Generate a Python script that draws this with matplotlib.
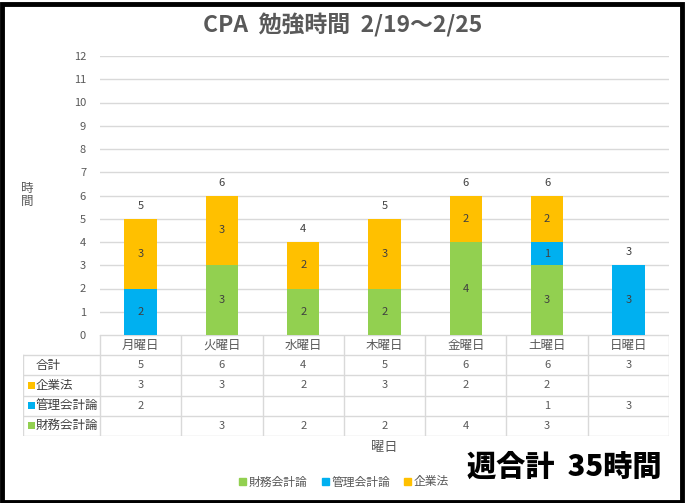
import matplotlib
matplotlib.use("Agg")
import matplotlib.pyplot as plt
from matplotlib.patches import Patch, Rectangle

plt.rcParams["font.family"] = ["Noto Sans CJK JP", "DejaVu Sans"]

# data
days = ["月曜日", "火曜日", "水曜日", "木曜日", "金曜日", "土曜日", "日曜日"]
zaimu = [0, 3, 2, 2, 4, 3, 0]     # 財務会計論
kanri = [2, 0, 0, 0, 0, 1, 3]     # 管理会計論
kigyo = [3, 3, 2, 3, 2, 2, 0]     # 企業法
series_names = ["財務会計論", "管理会計論", "企業法"]
series_colors = ["#92D050", "#00B0F0", "#FFC000"]
yticks = list(range(0, 13))
title = "CPA  勉強時間  2/19～2/25"
week_total_text = "週合計  35時間"

W, H = 685, 503
fig = plt.figure(figsize=(W / 100, H / 100), dpi=100)
fig.patch.set_facecolor("white")

# black frame around the whole picture
fig.add_artist(Rectangle((1.5 / W, 1.5 / H), 1 - 5 / W, 1 - 5 / H,
                         transform=fig.transFigure, fill=False,
                         edgecolor="black", linewidth=3.5))

# main chart area
ax_l, ax_r, ax_t, ax_b = 100, 669, 56, 335
ax = fig.add_axes([ax_l / W, 1 - ax_b / H, (ax_r - ax_l) / W, (ax_b - ax_t) / H])

x = list(range(len(days)))
series = [zaimu, kanri, kigyo]
bottoms = [0] * len(days)
for vals, name, col in zip(series, series_names, series_colors):
    ax.bar(x, vals, width=0.4, bottom=bottoms, color=col, label=name, zorder=3)
    for i, v in enumerate(vals):
        if v:
            ax.text(i, bottoms[i] + v / 2, str(v), ha="center", va="center",
                    fontsize=8, color="#404040", zorder=4)
    bottoms = [b + v for b, v in zip(bottoms, vals)]

totals = bottoms
for i, t in enumerate(totals):
    ax.text(i, t + 0.55, str(t), ha="center", va="center", fontsize=8, color="#404040")

ax.set_xlim(-0.5, len(days) - 0.5)
ax.set_ylim(0, 12)
ax.set_yticks(yticks)
ax.set_xticks([])
ax.tick_params(axis="y", length=0, labelsize=8, labelcolor="#595959", pad=10)
ax.grid(axis="y", color="#D9D9D9", linewidth=1, zorder=0)
for s in ["top", "right", "left", "bottom"]:
    ax.spines[s].set_visible(False)

fig.text(27 / W, 1 - 195 / H, "時\n間", ha="center", va="center",
         fontsize=9, color="#595959", linespacing=0.95)

# data table under the chart
tb_l, tb_b = 23, 436
tab = fig.add_axes([tb_l / W, 1 - tb_b / H, (ax_r - tb_l) / W, (tb_b - ax_b) / H])
unit = (ax_r - ax_l) / len(days)
left_x = -0.5 - (ax_l - tb_l) / unit
tab.set_xlim(left_x, len(days) - 0.5)
tab.set_ylim(5, 0)
tab.axis("off")

lc = "#D9D9D9"
# horizontal lines
tab.plot([-0.5, len(days) - 0.5], [0, 0], color=lc, lw=1)
for r in range(1, 6):
    tab.plot([left_x, len(days) - 0.5], [r, r], color=lc, lw=1)
# vertical lines
tab.plot([left_x, left_x], [1, 5], color=lc, lw=1)
for c in range(len(days) + 1):
    tab.plot([c - 0.5, c - 0.5], [0, 5], color=lc, lw=1)

for i, d in enumerate(days):
    tab.text(i, 0.5, d, ha="center", va="center", fontsize=9, color="#595959")

rows = [("合計", totals, None), ("企業法", kigyo, series_colors[2]),
        ("管理会計論", kanri, series_colors[1]), ("財務会計論", zaimu, series_colors[0])]
for r, (name, vals, col) in enumerate(rows, start=1):
    if col is None:
        tab.text(left_x + 0.15, r + 0.5, name, ha="left", va="center",
                 fontsize=9, color="#404040")
    else:
        sq = 7 / unit
        tab.add_patch(Rectangle((left_x + 0.06, r + 0.5 - 0.17), sq, 0.34,
                                color=col, lw=0))
        tab.text(left_x + 0.06 + sq + 0.01, r + 0.5, name, ha="left", va="center",
                 fontsize=9, color="#404040")
    for i, v in enumerate(vals):
        if v:
            tab.text(i, r + 0.5, str(v), ha="center", va="center",
                     fontsize=8, color="#595959")

fig.text((ax_l + ax_r) / 2 / W, 1 - 447 / H, "曜日", ha="center", va="center",
         fontsize=9.5, color="#595959")

# title
fig.text(0.5, 1 - 25 / H, title, ha="center", va="center", fontsize=16.5,
         fontweight="bold", color="#595959")

# legend
handles = [Patch(color=c, label=n) for n, c in zip(series_names, series_colors)]
fig.legend(handles=handles, loc="center", bbox_to_anchor=(344 / W, 1 - 482 / H),
           ncol=3, frameon=False, fontsize=8.5, handlelength=0.6, handleheight=0.6,
           handletextpad=0.2, columnspacing=1.2, labelcolor="#595959")

fig.text(564 / W, 1 - 467 / H, week_total_text, ha="center", va="center",
         fontsize=21, fontweight="heavy", color="black")

fig.savefig("out.png", dpi=100)
